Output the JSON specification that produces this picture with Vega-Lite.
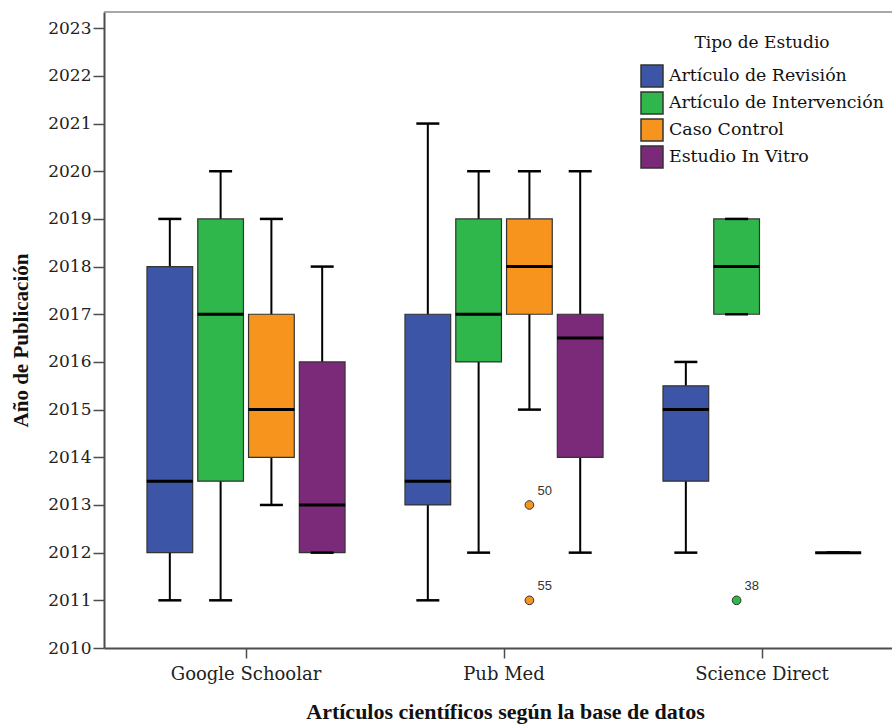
{
  "$schema": "https://vega.github.io/schema/vega-lite/v6.json",
  "autosize": {"type": "none"},
  "width": 788,
  "height": 636,
  "padding": {"left": 104, "top": 12, "right": 0, "bottom": 76},
  "background": "white",
  "config": {
    "view": {"stroke": null},
    "axis": {"grid": false, "domainColor": "#4d4d4d", "domainWidth": 2, "tickColor": "#4d4d4d", "tickWidth": 1.5, "labelFont": "DejaVu Serif", "labelFontSize": 17, "labelColor": "#222", "titleFont": "Liberation Serif", "titleFontSize": 21, "titleFontWeight": "bold", "titleColor": "#111"}
  },
  "datasets": {
    "boxes": [
      {"base": "Google Schoolar", "tipo": "Artículo de Revisión", "lower": 2011, "q1": 2012, "median": 2013.5, "q3": 2018, "upper": 2019},
      {"base": "Google Schoolar", "tipo": "Artículo de Intervención", "lower": 2011, "q1": 2013.5, "median": 2017, "q3": 2019, "upper": 2020},
      {"base": "Google Schoolar", "tipo": "Caso Control", "lower": 2013, "q1": 2014, "median": 2015, "q3": 2017, "upper": 2019},
      {"base": "Google Schoolar", "tipo": "Estudio In Vitro", "lower": 2012, "q1": 2012, "median": 2013, "q3": 2016, "upper": 2018},
      {"base": "Pub Med", "tipo": "Artículo de Revisión", "lower": 2011, "q1": 2013, "median": 2013.5, "q3": 2017, "upper": 2021},
      {"base": "Pub Med", "tipo": "Artículo de Intervención", "lower": 2012, "q1": 2016, "median": 2017, "q3": 2019, "upper": 2020},
      {"base": "Pub Med", "tipo": "Caso Control", "lower": 2015, "q1": 2017, "median": 2018, "q3": 2019, "upper": 2020},
      {"base": "Pub Med", "tipo": "Estudio In Vitro", "lower": 2012, "q1": 2014, "median": 2016.5, "q3": 2017, "upper": 2020},
      {"base": "Science Direct", "tipo": "Artículo de Revisión", "lower": 2012, "q1": 2013.5, "median": 2015, "q3": 2015.5, "upper": 2016},
      {"base": "Science Direct", "tipo": "Artículo de Intervención", "lower": 2017, "q1": 2017, "median": 2018, "q3": 2019, "upper": 2019},
      {"base": "Science Direct", "tipo": "Estudio In Vitro", "lower": 2012, "q1": 2012, "median": 2012, "q3": 2012, "upper": 2012}
    ],
    "outliers": [
      {"base": "Pub Med", "tipo": "Caso Control", "year": 2013, "label": "50"},
      {"base": "Pub Med", "tipo": "Caso Control", "year": 2011, "label": "55"},
      {"base": "Science Direct", "tipo": "Artículo de Intervención", "year": 2011, "label": "38"}
    ],
    "frame": [{"top": 2023.34}]
  },
  "layer": [
    {
      "data": {"name": "frame"},
      "mark": {"type": "rule", "color": "#8a8a8a", "strokeWidth": 1.5},
      "encoding": {"y": {"field": "top", "type": "quantitative"}}
    },
    {
      "data": {"name": "boxes"},
      "mark": {"type": "rule", "color": "#000", "strokeWidth": 2},
      "encoding": {
        "x": {"field": "base", "type": "nominal", "sort": ["Google Schoolar", "Pub Med", "Science Direct"],
          "scale": {"domain": ["Google Schoolar", "Pub Med", "Science Direct"], "paddingInner": 0, "paddingOuter": 0.0271, "align": 0.93},
          "axis": {"title": "Artículos científicos según la base de datos", "labelAngle": 0, "labelFontSize": 18, "tickSize": 10, "labelPadding": 7, "titleX": 401, "titlePadding": 18, "titleFontSize": 22}},
        "xOffset": {"field": "tipo", "type": "nominal",
          "scale": {"domain": ["Artículo de Revisión", "Artículo de Intervención", "Caso Control", "Estudio In Vitro"], "paddingInner": 0.1, "paddingOuter": 0.59}},
        "y": {"field": "lower", "type": "quantitative", "scale": {"domain": [2010, 2023.34], "nice": false, "zero": false},
          "axis": {"title": "Año de Publicación", "values": [2010,2011,2012,2013,2014,2015,2016,2017,2018,2019,2020,2021,2022,2023], "format": "d", "tickSize": 11, "labelPadding": 2, "titleX": -73, "titleY": 328, "titleFontSize": 21}},
        "y2": {"field": "upper"}
      }
    },
    {
      "data": {"name": "boxes"},
      "mark": {"type": "bar", "stroke": "#333", "strokeWidth": 1.2},
      "encoding": {
        "x": {"field": "base", "type": "nominal"},
        "xOffset": {"field": "tipo", "type": "nominal"},
        "y": {"field": "q1", "type": "quantitative"},
        "y2": {"field": "q3"},
        "color": {"field": "tipo", "type": "nominal", "title": "Tipo de Estudio",
          "scale": {"domain": ["Artículo de Revisión", "Artículo de Intervención", "Caso Control", "Estudio In Vitro"], "range": ["#3c55a6", "#2fb74b", "#f7941e", "#7b2a7a"]},
          "legend": {"orient": "none", "legendX": 536, "legendY": 23, "symbolType": "square", "symbolSize": 484, "symbolStrokeColor": "#333", "symbolStrokeWidth": 1.5, "symbolOpacity": 1,
            "labelFont": "DejaVu Serif", "labelFontSize": 17.4, "labelColor": "#111", "labelOffset": 5, "labelLimit": 400, "rowPadding": -1,
            "titleFont": "DejaVu Serif", "titleFontSize": 17, "titleFontWeight": "normal", "titleColor": "#111", "titleAnchor": "middle", "titleAlign": "center", "titlePadding": 12, "titleLimit": 400}}
      }
    },
    {
      "data": {"name": "boxes"},
      "mark": {"type": "tick", "color": "#000", "size": 46, "thickness": 3, "orient": "horizontal", "opacity": 1},
      "encoding": {
        "x": {"field": "base", "type": "nominal"},
        "xOffset": {"field": "tipo", "type": "nominal"},
        "y": {"field": "median", "type": "quantitative"}
      }
    },
    {
      "data": {"name": "boxes"},
      "mark": {"type": "tick", "color": "#000", "size": 23, "thickness": 2.5, "orient": "horizontal", "opacity": 1},
      "encoding": {
        "x": {"field": "base", "type": "nominal"},
        "xOffset": {"field": "tipo", "type": "nominal"},
        "y": {"field": "lower", "type": "quantitative"}
      }
    },
    {
      "data": {"name": "boxes"},
      "mark": {"type": "tick", "color": "#000", "size": 23, "thickness": 2.5, "orient": "horizontal", "opacity": 1},
      "encoding": {
        "x": {"field": "base", "type": "nominal"},
        "xOffset": {"field": "tipo", "type": "nominal"},
        "y": {"field": "upper", "type": "quantitative"}
      }
    },
    {
      "data": {"name": "outliers"},
      "mark": {"type": "point", "filled": true, "shape": "circle", "size": 75, "stroke": "#333", "strokeWidth": 1, "opacity": 1},
      "encoding": {
        "x": {"field": "base", "type": "nominal"},
        "xOffset": {"field": "tipo", "type": "nominal"},
        "y": {"field": "year", "type": "quantitative"},
        "color": {"field": "tipo", "type": "nominal"}
      }
    },
    {
      "data": {"name": "outliers"},
      "mark": {"type": "text", "align": "left", "baseline": "middle", "dx": 8, "dy": -14, "font": "Liberation Sans", "fontSize": 13, "color": "#333"},
      "encoding": {
        "x": {"field": "base", "type": "nominal"},
        "xOffset": {"field": "tipo", "type": "nominal"},
        "y": {"field": "year", "type": "quantitative"},
        "text": {"field": "label"}
      }
    }
  ]
}
